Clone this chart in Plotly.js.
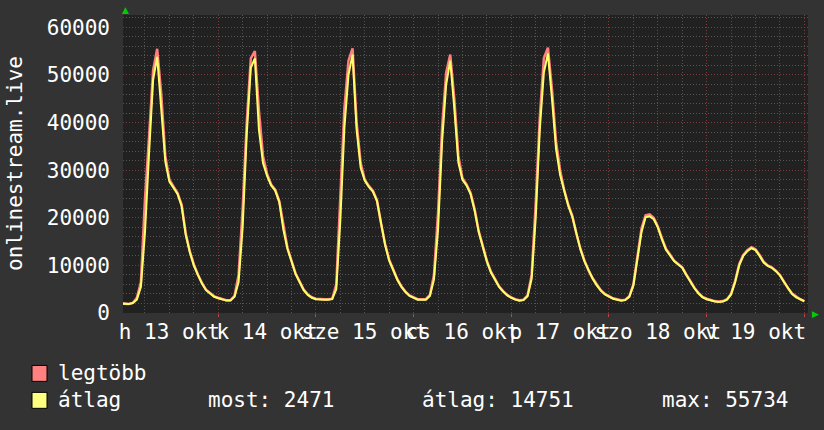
<!DOCTYPE html>
<html>
<head>
<meta charset="utf-8">
<script src="https://cdn.plot.ly/plotly-3.0.1.min.js"></script>
<style>html,body{margin:0;padding:0;background:#333333;}</style>
</head>
<body>
<div id="chart" style="width:824px;height:430px;"></div>
<script>
// Tick labels (centred on noon of each day) and day boundaries (hours from 13 okt 00:00)
const dayLabels = ['h 13 okt','k 14 okt','sze 15 okt','cs 16 okt','p 17 okt','szo 18 okt','v 19 okt'];
const dayNoons = [12, 36, 60, 84, 108, 132, 156];
const dayMidnights = [0, 24, 48, 72, 96, 120, 144, 168];

// Hourly samples, 13 okt 00:00 .. 20 okt 00:00
const atlag = [
  2000,2000,1900,2100,2800,5500,17000,33500,49000,53800,43500,31800,27600,26300,25000,22500,16500,12800,10000,8000,6200,4800,4000,3400,
  3100,2800,2600,2600,3400,6500,18000,37500,51500,53500,38500,31500,28800,26800,25700,23300,17500,13500,10800,8200,6500,4800,3800,3200,
  2900,2800,2800,2800,2900,5000,19500,39000,50000,54300,38500,30500,27800,26500,25500,23500,18500,14300,11000,9000,7000,5500,4400,3600,
  3200,2800,2800,2800,3600,7000,17500,36000,48000,53000,43000,31600,28000,26800,25000,21500,17000,14000,10800,8500,7000,5500,4500,3700,
  3200,2800,2600,2700,3500,7200,20000,38500,50500,54500,45000,34500,29000,25500,22500,20200,16400,13300,10800,8800,7200,5800,4700,3900,
  3400,3000,2800,2600,2700,3400,5800,11500,17000,20100,20300,19700,18000,15500,13300,12100,10900,10200,9500,8000,6500,5200,4100,3300,
  2900,2600,2400,2300,2400,2800,3900,6500,10000,12000,13000,13600,13200,12000,10600,9900,9500,8800,7900,6500,5100,4000,3300,2800,
  2471
];
const legtobb = [
  2000,2000,1900,2100,3200,6500,24000,37000,51000,55500,46000,33000,28000,26600,25200,22800,16800,13000,10200,8100,6300,4900,4100,3500,
  3200,2900,2700,2700,3600,8000,22000,40000,53500,55000,42500,33000,29200,27000,25900,23500,18200,13700,11000,8300,6600,4900,3900,3300,
  3000,2900,2900,2900,3000,6000,24000,43000,53000,55600,40000,31500,28000,26700,25700,23700,18800,14500,11200,9200,7100,5600,4500,3700,
  3300,2900,2900,2900,3800,8000,21000,39000,50500,54300,45000,33000,28300,27000,25200,21800,17200,14200,11000,8700,7100,5600,4600,3800,
  3300,2900,2700,2800,3700,8000,23000,41000,53500,55734,47000,36000,30000,25800,22800,20400,16600,13500,11000,8900,7300,5900,4800,4000,
  3500,3100,2900,2700,2800,3500,6000,12000,17800,20500,20700,20000,18200,15700,13500,12300,11000,10300,9600,8100,6600,5300,4200,3400,
  3000,2700,2500,2400,2500,2900,4000,6700,10300,12200,13200,13800,13400,12200,10800,10000,9600,8900,8000,6600,5200,4100,3400,2900,
  2500
];
const stepHours = 1;
const statMost = 2471, statAtlag = 14751, statMax = 55734;
const yTitle = 'onlinestream.live';

const hours = atlag.map((_, i) => i * stepHours);
const FONT = 'DejaVu Sans Mono';
const X_RANGE = [0.6, 168.9];

const traces = [
  {x: hours, y: legtobb, type: 'scatter', mode: 'lines', name: 'legtöbb',
   line: {color: '#ff7f7f', width: 2.5}, hoverinfo: 'skip'},
  {x: hours, y: atlag, type: 'scatter', mode: 'lines', name: 'átlag',
   line: {color: '#ffff66', width: 2}, hoverinfo: 'skip'},
  {x: dayNoons, y: dayNoons.map(() => null), xaxis: 'x2', type: 'scatter', mode: 'lines',
   showlegend: false, hoverinfo: 'skip'}
];

const px = v => (v - 123) / 685;
const py = v => (313.5 - v) / 298.5;

const layout = {
  width: 824, height: 430,
  paper_bgcolor: '#333333', plot_bgcolor: '#212121',
  margin: {l: 123, r: 16, t: 15, b: 116.5, pad: 0},
  showlegend: false,
  font: {family: FONT, size: 21, color: '#ffffff'},
  xaxis: {
    range: X_RANGE, tickmode: 'array', tickvals: dayMidnights, ticktext: dayMidnights.map(() => ''),
    ticks: 'outside', ticklen: 3, tickcolor: '#b04a4a', showgrid: true, gridcolor: '#7a3c3c',
    griddash: '1px,2px', gridwidth: 1, zeroline: false, showline: false,
    minor: {tick0: 0, dtick: 6, showgrid: true, gridcolor: '#545454', griddash: '1px,2px', ticks: ''}
  },
  xaxis2: {
    overlaying: 'x', anchor: 'y', side: 'bottom', range: X_RANGE,
    tickmode: 'array', tickvals: dayNoons, ticktext: dayLabels, tickangle: 0,
    showgrid: false, zeroline: false, ticks: '', ticklabelstandoff: 4,
    tickfont: {family: FONT, size: 21, color: '#ffffff'}
  },
  yaxis: {
    range: [0, 62600], tickmode: 'linear', tick0: 0, dtick: 10000, tickformat: 'd',
    showgrid: true, gridcolor: '#7a3c3c', griddash: '1px,2px', zeroline: false,
    ticks: '', ticklabelstandoff: 12,
    tickfont: {family: FONT, size: 21, color: '#ffffff'},
    minor: {dtick: 2000, showgrid: true, gridcolor: '#545454', griddash: '1px,2px', ticks: ''}
  },
  shapes: [
    {type: 'rect', xref: 'paper', yref: 'paper', x0: px(32), x1: px(47), y0: py(382), y1: py(366),
     fillcolor: '#ff8080', line: {color: '#000000', width: 1}},
    {type: 'rect', xref: 'paper', yref: 'paper', x0: px(32), x1: px(47), y0: py(409), y1: py(393),
     fillcolor: '#ffff80', line: {color: '#000000', width: 1}}
  ],
  annotations: [
    {text: yTitle, textangle: -90, xref: 'paper', yref: 'paper', x: px(15), y: 0.5,
     showarrow: false, xanchor: 'center', yanchor: 'middle', font: {family: FONT, size: 21, color: '#ffffff'}},
    {text: 'legtöbb', xref: 'paper', yref: 'paper', x: px(56), y: py(374), xanchor: 'left', yanchor: 'middle', showarrow: false},
    {text: 'átlag', xref: 'paper', yref: 'paper', x: px(56), y: py(401), xanchor: 'left', yanchor: 'middle', showarrow: false},
    {text: 'most: ' + statMost, xref: 'paper', yref: 'paper', x: px(206), y: py(401), xanchor: 'left', yanchor: 'middle', showarrow: false},
    {text: 'átlag: ' + statAtlag, xref: 'paper', yref: 'paper', x: px(420), y: py(401), xanchor: 'left', yanchor: 'middle', showarrow: false},
    {text: 'max: ' + statMax, xref: 'paper', yref: 'paper', x: px(660), y: py(401), xanchor: 'left', yanchor: 'middle', showarrow: false},
    {text: '▲', xref: 'paper', yref: 'paper', x: px(125), y: py(10), xanchor: 'center', yanchor: 'middle',
     showarrow: false, font: {family: 'DejaVu Sans', size: 9, color: '#00cc00'}},
    {text: '▶', xref: 'paper', yref: 'paper', x: px(815), y: py(315), xanchor: 'center', yanchor: 'middle',
     showarrow: false, font: {family: 'DejaVu Sans', size: 9, color: '#00cc00'}}
  ]
};

Plotly.newPlot('chart', traces, layout, {staticPlot: true, displayModeBar: false});
</script>
</body>
</html>
